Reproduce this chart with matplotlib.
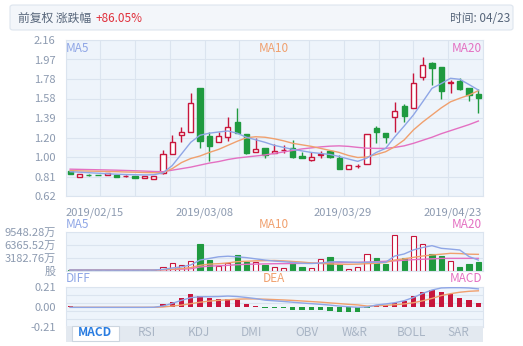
import numpy as np
import matplotlib.pyplot as plt
from matplotlib.patches import Rectangle, FancyBboxPatch

plt.rcParams['font.family'] = ['Noto Sans CJK SC', 'DejaVu Sans']

W, H = 523, 346

# ---- data (45 trading days) ----
date_ticks = ['2019/02/15', '2019/03/08', '2019/03/29', '2019/04/23']

opens = [0.865, 0.812, 0.832, 0.829, 0.826, 0.828, 0.813, 0.820, 0.797, 0.785,
         0.845, 1.035, 1.218, 1.255, 1.685, 1.212, 1.150, 1.205, 1.348, 1.230,
         1.058, 1.090, 1.042, 1.070, 1.091, 1.015, 0.972, 1.028, 1.064, 1.000,
         0.884, 0.913, 0.933, 1.288, 1.239, 1.397, 1.508, 1.492, 1.792, 1.937,
         1.890, 1.736, 1.758, 1.683, 1.627]
closes = [0.840, 0.834, 0.826, 0.826, 0.845, 0.812, 0.817, 0.800, 0.820, 0.817,
          1.035, 1.150, 1.250, 1.535, 1.164, 1.116, 1.210, 1.297, 1.245, 1.047,
          1.080, 1.025, 1.067, 1.076, 1.002, 0.998, 1.002, 1.032, 1.002, 0.884,
          0.926, 0.918, 1.229, 1.255, 1.200, 1.459, 1.410, 1.739, 1.913, 1.887,
          1.660, 1.742, 1.673, 1.617, 1.590]
highs = [0.865, 0.836, 0.840, 0.830, 0.848, 0.830, 0.830, 0.820, 0.822, 0.818,
         1.074, 1.220, 1.300, 1.640, 1.685, 1.253, 1.250, 1.400, 1.490, 1.230,
         1.190, 1.090, 1.130, 1.120, 1.173, 1.055, 1.050, 1.060, 1.070, 1.025,
         0.926, 0.940, 1.229, 1.311, 1.240, 1.545, 1.528, 1.830, 1.989, 1.946,
         1.890, 1.765, 1.780, 1.690, 1.673]
lows = [0.840, 0.810, 0.815, 0.825, 0.824, 0.810, 0.805, 0.800, 0.795, 0.783,
        0.840, 1.035, 1.154, 1.255, 1.098, 0.963, 1.150, 1.160, 1.245, 1.035,
        1.058, 0.992, 1.042, 1.047, 1.000, 0.998, 0.970, 1.000, 0.995, 0.884,
        0.884, 0.900, 0.933, 1.140, 1.140, 1.255, 1.354, 1.492, 1.770, 1.716,
        1.575, 1.634, 1.670, 1.561, 1.436]

ma5 = [0.860, 0.855, 0.850, 0.845, 0.840, 0.835, 0.832, 0.830, 0.828, 0.830,
       0.848, 0.920, 1.035, 1.150, 1.220, 1.240, 1.252, 1.262, 1.240, 1.200,
       1.175, 1.150, 1.120, 1.100, 1.080, 1.065, 1.050, 1.040, 1.030, 1.010,
       0.985, 0.962, 0.995, 1.050, 1.090, 1.205, 1.310, 1.420, 1.550, 1.683,
       1.730, 1.782, 1.772, 1.720, 1.666]
ma10 = [0.870, 0.868, 0.866, 0.864, 0.862, 0.860, 0.857, 0.855, 0.852, 0.850,
        0.850, 0.890, 0.950, 0.990, 1.015, 1.050, 1.080, 1.120, 1.160, 1.195,
        1.205, 1.200, 1.185, 1.165, 1.140, 1.125, 1.110, 1.090, 1.070, 1.050,
        1.020, 1.000, 1.005, 1.030, 1.057, 1.107, 1.173, 1.272, 1.350, 1.420,
        1.490, 1.550, 1.585, 1.617, 1.660]
ma20 = [0.885, 0.883, 0.881, 0.879, 0.877, 0.875, 0.872, 0.869, 0.866, 0.862,
        0.860, 0.875, 0.890, 0.905, 0.925, 0.945, 0.960, 0.980, 0.995, 1.005,
        1.015, 1.025, 1.040, 1.055, 1.070, 1.085, 1.095, 1.105, 1.112, 1.115,
        1.110, 1.100, 1.092, 1.090, 1.090, 1.100, 1.115, 1.140, 1.170, 1.200,
        1.235, 1.265, 1.295, 1.325, 1.360]

# volume in 万股
volume = [300, 250, 230, 200, 260, 220, 200, 230, 250, 260,
          1060, 1900, 1480, 2470, 6660, 2710, 1230, 2050, 3950, 2300,
          2140, 1480, 900, 820, 2140, 1060, 740, 2960, 3450, 1730,
          410, 990, 4200, 3290, 1730, 8880, 3130, 8640, 6660, 4110,
          3700, 2470, 990, 1730, 2300]
vol_ma5 = [240, 235, 230, 225, 220, 215, 210, 215, 220, 225,
           400, 750, 1000, 1500, 2700, 3100, 3500, 3650, 3500, 3300,
           3000, 2700, 2450, 2300, 2100, 1900, 1850, 1950, 2250, 2300,
           2200, 2100, 2150, 2150, 2150, 3700, 4200, 5200, 5800, 6250,
           5600, 5400, 5180, 3550, 2700]
vol_ma10 = [250, 248, 245, 240, 238, 235, 232, 230, 228, 228,
            300, 450, 600, 850, 1400, 1700, 1800, 2000, 2300, 2400,
            2500, 2550, 2600, 2500, 2350, 2200, 2000, 1850, 1750, 1650,
            1640, 1700, 1800, 1900, 2100, 2700, 3000, 3370, 3700, 3950,
            4150, 4360, 4300, 4150, 4110]
vol_ma20 = [260, 258, 256, 254, 252, 250, 248, 246, 244, 242,
            300, 380, 450, 550, 1000, 1200, 1300, 1400, 1550, 1650,
            1700, 1750, 1800, 1820, 1850, 1880, 1900, 1950, 2000, 2050,
            2100, 2140, 2200, 2300, 2400, 2500, 2650, 2800, 2900, 3000,
            3100, 3120, 3120, 3120, 3120]
vol_ticks = [0, 3182.76, 6365.52, 9548.28]
vol_labels = ['股', '3182.76万', '6365.52万', '9548.28万']

diff = [-0.004, -0.004, -0.004, -0.004, -0.004, -0.004, -0.004, -0.004, -0.004, -0.003,
        0.010, 0.038, 0.070, 0.098, 0.108, 0.108, 0.110, 0.115, 0.110, 0.100,
        0.088, 0.072, 0.065, 0.058, 0.050, 0.042, 0.035, 0.028, 0.020, 0.010,
        0.003, -0.003, 0.000, 0.021, 0.032, 0.045, 0.066, 0.100, 0.143, 0.178,
        0.200, 0.203, 0.203, 0.200, 0.190]
dea = [-0.003, -0.003, -0.003, -0.003, -0.003, -0.003, -0.003, -0.003, -0.003, -0.003,
       0.000, 0.010, 0.020, 0.035, 0.050, 0.062, 0.070, 0.076, 0.082, 0.085,
       0.085, 0.082, 0.078, 0.074, 0.069, 0.063, 0.057, 0.051, 0.043, 0.036,
       0.028, 0.022, 0.010, 0.012, 0.018, 0.024, 0.032, 0.045, 0.065, 0.090,
       0.120, 0.140, 0.155, 0.165, 0.170]
macd = [0.010, 0.002, 0.002, 0.001, 0.001, 0.000, -0.001, -0.001, -0.001, 0.000,
        0.028, 0.056, 0.091, 0.133, 0.116, 0.091, 0.080, 0.080, 0.074, 0.028,
        0.010, -0.010, -0.014, -0.014, -0.028, -0.035, -0.035, -0.035, -0.042, -0.052,
        -0.052, -0.052, -0.007, 0.017, 0.017, 0.045, 0.063, 0.116, 0.157, 0.178,
        0.157, 0.133, 0.098, 0.074, 0.038]

tabs = ['MACD', 'RSI', 'KDJ', 'DMI', 'OBV', 'W&R', 'BOLL', 'SAR']

# ---- styles ----
RED = '#c8163c'
GREEN = '#1f9a3f'
C5, C10, C20 = '#8fa6e6', '#f0a06e', '#e470c2'
LBL = '#8c9ab0'
BG = '#eef4fb'
GRID = '#dbe4ef'

fig = plt.figure(figsize=(W / 100, H / 100), dpi=100)


def px_axes(x0, y0, x1, y1):
    return fig.add_axes([x0 / W, 1 - y1 / H, (x1 - x0) / W, (y1 - y0) / H])


def style(ax):
    ax.set_facecolor(BG)
    for s in ax.spines.values():
        s.set_color(GRID)
        s.set_linewidth(0.8)
    ax.tick_params(length=0, labelsize=8, labelcolor=LBL, pad=7)
    ax.set_xlim(-0.5, len(opens) - 0.5)


x = np.arange(len(opens))

# header
fig.patches.append(FancyBboxPatch((10 / W, 1 - 30 / H), 503 / W, 25 / H,
                                  boxstyle='round,pad=0,rounding_size=0.006',
                                  transform=fig.transFigure, fc='#f3f6fa', ec='#dde5ee', lw=0.8))
fig.text(18 / W, 1 - 18 / H, '前复权 涨跌幅', fontsize=8.5, color='#56657a', va='center')
fig.text(96 / W, 1 - 18 / H, '+86.05%', fontsize=8.5, color='#e0303c', va='center')
fig.text(510 / W, 1 - 18 / H, '时间: 04/23', fontsize=8.5, color='#56657a', va='center', ha='right')

# ---- main candle chart ----
ax = px_axes(65.5, 40, 483, 196)
style(ax)
pticks = np.linspace(0.62, 2.16, 9)
ax.set_ylim(0.62, 2.16)
ax.set_yticks(pticks)
ax.set_yticklabels([f'{v:.2f}' for v in [0.62, 0.81, 1.00, 1.20, 1.39, 1.58, 1.78, 1.97, 2.16]])
ax.set_xticks([])
for g in pticks:
    ax.axhline(g, color=GRID, lw=0.8, zorder=0)
for g in np.linspace(-0.5, len(opens) - 0.5, 13):
    ax.axvline(g, color=GRID, lw=0.8, zorder=0)

for i in x:
    o, c = opens[i], closes[i]
    up = c >= o
    col = RED if up else GREEN
    ax.vlines(i, lows[i], highs[i], color=col, lw=1, zorder=2)
    hgt = max(abs(c - o), 0.004)
    ax.add_patch(Rectangle((i - 0.28, min(o, c)), 0.56, hgt,
                           fc='white' if up else col, ec=col, lw=1, zorder=3))

ax.plot(x, ma20, color=C20, lw=1, zorder=4)
ax.plot(x, ma10, color=C10, lw=1, zorder=4)
ax.plot(x, ma5, color=C5, lw=1, zorder=4)

fig.text(66 / W, 1 - 48 / H, 'MA5', fontsize=8.5, color=C5, va='center')
fig.text(274 / W, 1 - 48 / H, 'MA10', fontsize=8.5, color=C10, va='center', ha='center')
fig.text(482 / W, 1 - 48 / H, 'MA20', fontsize=8.5, color=C20, va='center', ha='right')

# date labels
date_x = [66, 205, 343, 482]
aligns = ['left', 'center', 'center', 'right']
for dx, lab, al in zip(date_x, date_ticks, aligns):
    fig.text(dx / W, 1 - 213 / H, lab, fontsize=8, color=LBL, va='center', ha=al)

# ---- volume ----
av = px_axes(65.5, 232.3, 483, 271)
style(av)
av.set_ylim(0, 9548.28)
av.set_yticks(vol_ticks)
av.set_yticklabels(vol_labels)
av.set_xticks([])
for g in vol_ticks:
    av.axhline(g, color=GRID, lw=0.8, zorder=0)
for i in x:
    up = closes[i] >= opens[i]
    col = RED if up else GREEN
    av.bar(i, volume[i], width=0.56, fc='white' if up else col, ec=col, lw=0.8, zorder=2)
av.plot(x, vol_ma20, color=C20, lw=1, zorder=3)
av.plot(x, vol_ma10, color=C10, lw=1, zorder=3)
av.plot(x, vol_ma5, color=C5, lw=1, zorder=3)

fig.text(66 / W, 1 - 224 / H, 'MA5', fontsize=8.5, color=C5, va='center')
fig.text(274 / W, 1 - 224 / H, 'MA10', fontsize=8.5, color=C10, va='center', ha='center')
fig.text(482 / W, 1 - 224 / H, 'MA20', fontsize=8.5, color=C20, va='center', ha='right')

# ---- MACD ----
am = px_axes(65.5, 287, 483, 327)
style(am)
am.set_ylim(-0.21, 0.21)
am.set_yticks([-0.21, 0, 0.21])
am.set_yticklabels(['-0.21', '0.00', '0.21'])
am.set_xticks([])
for g in np.linspace(-0.21, 0.21, 6):
    am.axhline(g, color=GRID, lw=0.8, zorder=0)
am.bar(x, macd, width=0.56, color=[RED if v >= 0 else GREEN for v in macd], zorder=2)
am.plot(x, dea, color=C10, lw=1, zorder=3)
am.plot(x, diff, color=C5, lw=1, zorder=3)

fig.text(66 / W, 1 - 279 / H, 'DIFF', fontsize=8.5, color=C5, va='center')
fig.text(274 / W, 1 - 279 / H, 'DEA', fontsize=8.5, color=C10, va='center', ha='center')
fig.text(482 / W, 1 - 279 / H, 'MACD', fontsize=8.5, color=C20, va='center', ha='right')

# tab bar
fig.patches.append(Rectangle((66 / W, 1 - 342 / H), 417 / W, 16 / H,
                             transform=fig.transFigure, fc='#e3e9f0', ec='none', zorder=5))
fig.patches.append(Rectangle((72 / W, 1 - 341 / H), 47 / W, 15.5 / H,
                             transform=fig.transFigure, fc='white', ec='#cdd6e0', lw=0.8, zorder=6))
tab_x = [95, 147, 199, 251, 307, 355, 411, 458]
for tx, t in zip(tab_x, tabs):
    if t == 'MACD':
        fig.text(tx / W, 1 - 333 / H, t, fontsize=8.5, color='#2a7de1', fontweight='bold',
                 ha='center', va='center', zorder=7)
    else:
        fig.text(tx / W, 1 - 333 / H, t, fontsize=8.5, color='#a9b5c5', ha='center', va='center', zorder=7)

fig.savefig('out.png', dpi=100)
